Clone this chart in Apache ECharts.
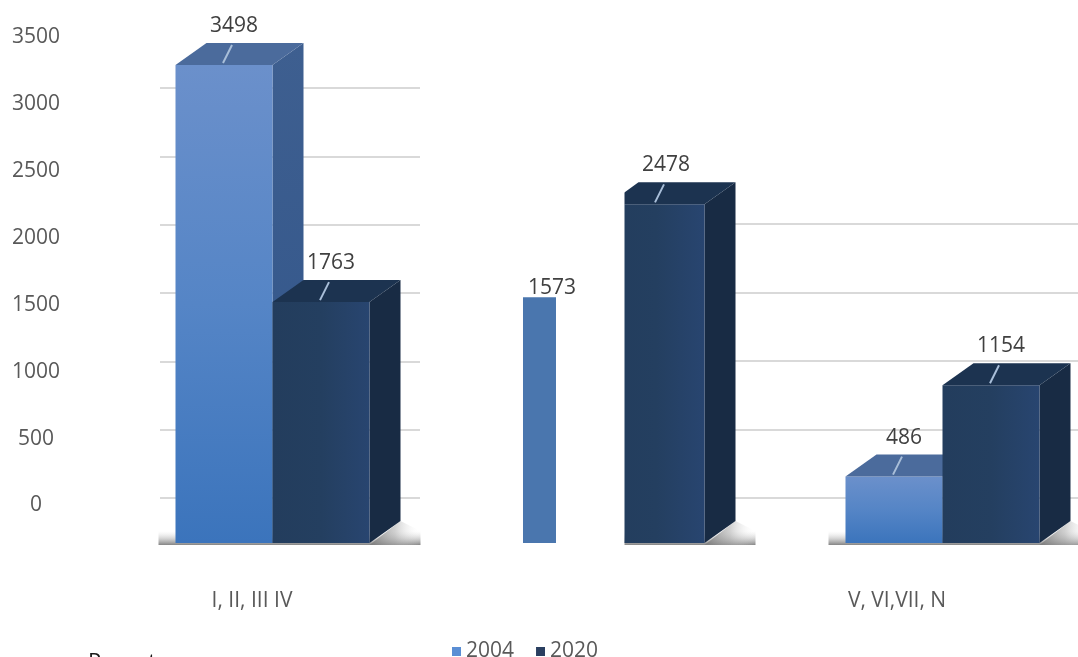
<!DOCTYPE html>
<html><head><meta charset="utf-8">
<script src="https://cdn.jsdelivr.net/npm/echarts@6/dist/echarts.min.js"></script>
<style>html,body{margin:0;padding:0;background:#fff}#c{width:1078px;height:657px}</style>
</head><body><div id="c"></div>
<script>
// ---- data ----
const categories = ['I, II, III IV', '', 'V, VI,VII, N'];
const seriesNames = ['2004', '2020'];
const values2004 = [3498, 1573, 486];
const values2020 = [1763, 2478, 1154];
const yTickMin = 0, yTickMax = 3500, yTickStep = 500;
const footText = 'Parent';
const flatIndex = 1; // middle 2004 value is drawn as a flat bar

// ---- style ----
const FONT = 'Open Sans';
const FW = 97 / 335;   // front face width as fraction of band
const DX = 31, DY = -22;
const LABEL_COLOR = '#404040';

function lin(x1, y1, x2, y2, stops) {
  return new echarts.graphic.LinearGradient(x1, y1, x2, y2, stops.map((c, i) => ({offset: i / (stops.length - 1), color: c})));
}
const pal = [
  {front: lin(0, 0, 0, 1, ['#6b90cb', '#5585c6', '#3b74bc']), side: lin(0,0,0,1,['#3e5f90','#31558a']), top: '#4b6b9c'},
  {front: lin(0, 0, 1, 0, ['#233d5d', '#243f60', '#284570']), side: '#182b44', top: '#1c3350'}
];

function render3d(which) {
  return function (params, api) {
    const cat = api.value(0), val = api.value(1);
    const base = api.coord([cat, 0]);
    const tp = api.coord([cat, val]);
    const band = api.size([1, 0])[0];
    const w = band * FW;
    const x0 = which === 0 ? base[0] - w : base[0];
    const x1 = x0 + w;
    const yb = base[1], yt = tp[1];
    const cx = x0 + w / 2;
    const p = pal[which];
    const children = [
      {type: 'polygon', shape: {points: [[x1, yt], [x1 + DX, yt + DY], [x1 + DX, yb + DY], [x1, yb]]}, style: {fill: p.side}},
      {type: 'rect', shape: {x: x0, y: yt, width: w, height: yb - yt}, style: {fill: p.front}},
      {type: 'polygon', shape: {points: [[x0, yt], [x1, yt], [x1 + DX, yt + DY], [x0 + DX, yt + DY]]}, style: {fill: p.top}},
      {type: 'line', shape: {x1: cx - 1, y1: yt - 2, x2: cx + 8, y2: yt - 20}, style: {stroke: '#a9bfd9', lineWidth: 2}},
      {type: 'text', style: {text: String(val), x: cx + 10, y: yt - 39, align: 'center', verticalAlign: 'middle', fill: LABEL_COLOR, font: '21px "' + FONT + '"'}}
    ];
    const g = {type: 'group', children: children};
    if (which === 1 && cat === flatIndex) {
      g.clipPath = {type: 'rect', shape: {x: base[0] + 17, y: 0, width: 3000, height: 3000}};
    }
    return g;
  };
}

function renderFlat(params, api) {
  const cat = api.value(0), val = api.value(1);
  const base = api.coord([cat, 0]);
  const tp = api.coord([cat, val]);
  const band = api.size([1, 0])[0];
  const w = band * 0.0985;
  const cx = base[0] - band * 0.203;
  return {type: 'group', children: [
    {type: 'rect', shape: {x: cx - w / 2, y: tp[1], width: w, height: base[1] - tp[1]}, style: {fill: '#4a76ae'}},
    {type: 'text', style: {text: String(val), x: cx + 12.5, y: tp[1] - 9, align: 'center', verticalAlign: 'middle', fill: LABEL_COLOR, font: '21px "' + FONT + '"'}}
  ]};
}

function renderFloor(params, api) {
  const cat = api.value(0);
  const base = api.coord([cat, 0]);
  const band = api.size([1, 0])[0];
  const w = band * FW;
  const yb = base[1];
  const left = cat === flatIndex ? base[0] + 17 : base[0] - w - 17;
  const x1 = base[0] + w;
  const right = x1 + DX + 20;
  return {type: 'group', children: [
    {type: 'rect', shape: {x: left, y: yb - 12, width: right - left, height: 14},
      style: {fill: lin(0, 0, 0, 1, ['rgba(220,220,220,0)', 'rgba(170,170,170,0.45)', 'rgba(110,110,110,0.85)'])}},
    {type: 'polygon', shape: {points: [[x1, yb + 2], [x1 + DX, yb + DY], [right, yb + DY + 10], [right, yb + 2]]},
      style: {fill: lin(0, 0, 1, 0, ['rgba(120,120,120,0.85)', 'rgba(170,170,170,0.55)', 'rgba(255,255,255,0)'])}}
  ]};
}

const d2004 = values2004.map((v, i) => [i, v]);
const d2020 = values2020.map((v, i) => [i, v]);

const chart = echarts.init(document.getElementById('c'), null, {renderer: 'canvas'});
chart.setOption({
  animation: false,
  backgroundColor: '#ffffff',
  textStyle: {fontFamily: FONT},
  grid: [
    {left: 105, top: 64.7, width: 1005, height: 478.3, outerBoundsMode: 'none'},
    {left: 90.75, top: 37.5, width: 967.5, height: 468, outerBoundsMode: 'none'},
    {left: 160, top: 88, width: 260, height: 410, outerBoundsMode: 'none'},
    {left: 735, top: 224, width: 343, height: 274, outerBoundsMode: 'none'}
  ],
  xAxis: [
    {gridIndex: 0, type: 'category', data: categories, show: false},
    {gridIndex: 1, type: 'category', data: categories, axisLine: {show: false}, axisTick: {show: false},
      axisLabel: {margin: 85, color: '#595959', fontSize: 21, fontFamily: FONT}},
    {gridIndex: 2, type: 'value', min: 0, max: 1, show: false},
    {gridIndex: 3, type: 'value', min: 0, max: 1, show: false}
  ],
  yAxis: [
    {gridIndex: 0, type: 'value', min: yTickMin, max: yTickMax, show: false},
    {gridIndex: 0, type: 'value', min: yTickMin, max: 3060, show: false},
    {gridIndex: 1, type: 'value', min: yTickMin, max: yTickMax, interval: yTickStep,
      axisLine: {show: false}, axisTick: {show: false}, splitLine: {show: false},
      axisLabel: {align: 'center', margin: 54.75, color: '#595959', fontSize: 21, fontFamily: FONT,
        formatter: v => String(v)}},
    {gridIndex: 2, type: 'value', min: yTickMin, max: 3000, interval: yTickStep,
      axisLine: {show: false}, axisTick: {show: false}, axisLabel: {show: false},
      splitLine: {lineStyle: {color: '#d9d9d9', width: 2}}},
    {gridIndex: 3, type: 'value', min: yTickMin, max: 2000, interval: yTickStep,
      axisLine: {show: false}, axisTick: {show: false}, axisLabel: {show: false},
      splitLine: {lineStyle: {color: '#d9d9d9', width: 2}}}
  ],
  legend: {
    data: seriesNames, left: 447, top: 636, icon: 'rect', itemWidth: 9, itemHeight: 9, itemGap: 22,
    textStyle: {color: '#595959', fontSize: 21, fontFamily: FONT}
  },
  graphic: [
    {type: 'text', left: 88, top: 652, style: {text: footText, fill: '#1a1a1a', font: '22px "' + FONT + '"'}}
  ],
  series: [
    {type: 'custom', name: 'floor', xAxisIndex: 0, yAxisIndex: 0, data: categories.map((c, i) => [i, 0]),
      renderItem: renderFloor, silent: true, z: 1},
    {type: 'custom', name: seriesNames[0], xAxisIndex: 0, yAxisIndex: 0, itemStyle: {color: '#5a8ed4'},
      data: d2004.filter(d => d[0] !== flatIndex), encode: {x: 0, y: 1}, renderItem: render3d(0), z: 2},
    {type: 'custom', name: seriesNames[0], xAxisIndex: 0, yAxisIndex: 1, itemStyle: {color: '#5a8ed4'},
      data: d2004.filter(d => d[0] === flatIndex), encode: {x: 0, y: 1}, renderItem: renderFlat, z: 2},
    {type: 'custom', name: seriesNames[1], xAxisIndex: 0, yAxisIndex: 0, itemStyle: {color: '#2a3f60'},
      data: d2020, encode: {x: 0, y: 1}, renderItem: render3d(1), z: 3}
  ]
});
</script>
</body></html>
